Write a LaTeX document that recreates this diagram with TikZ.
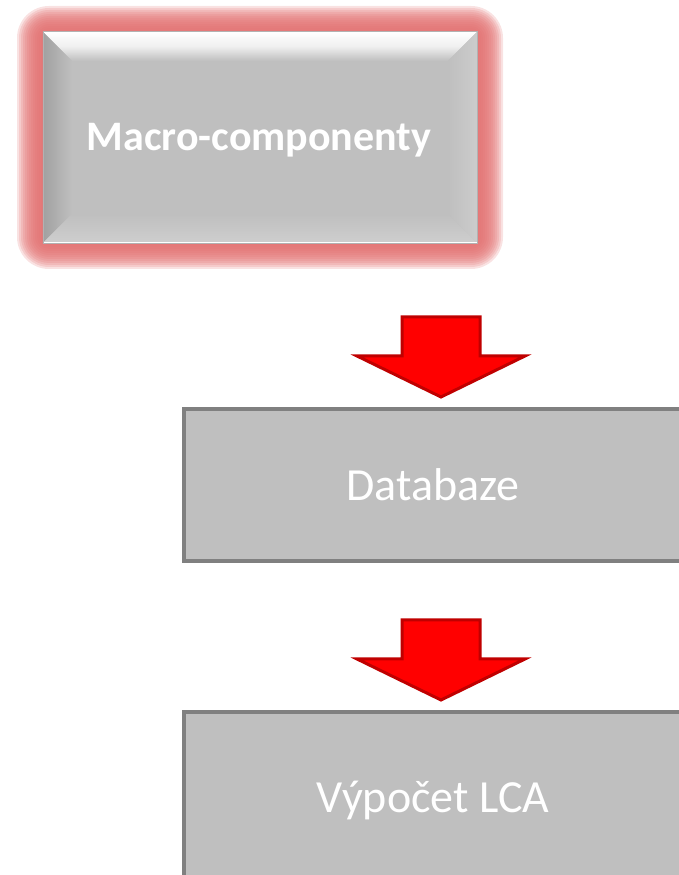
\documentclass[tikz,border=0pt]{standalone}
\usepackage{fontspec}
\setmainfont{Carlito}
\usetikzlibrary{positioning, calc}

\definecolor{glowred}{RGB}{226,112,112}
\definecolor{boxfill}{RGB}{191,191,191}
\definecolor{boxedge}{RGB}{128,128,128}
\definecolor{arrowred}{RGB}{255,0,0}
\definecolor{arrowedge}{RGB}{192,0,0}

% red block arrow, tip at the origin
\tikzset{
    blockarrow/.pic={
        \draw[arrowedge, fill=arrowred, line width=3pt, line join=miter]
            (0,0) -- (-84,41) -- (-39,41) -- (-39,80) -- (39,80) -- (39,41) -- (84,41) -- cycle;
    }
}

\begin{document}
\begin{tikzpicture}[
    x=1pt, y=1pt,
    glow/.style={fill=glowred, opacity=0.2, rounded corners=#1},
    bevelbox/.style={fill=boxfill, minimum width=434pt, minimum height=211pt, inner sep=0pt},
    flatbox/.style={draw=boxedge, line width=4pt, fill=boxfill, minimum width=498pt, inner sep=0pt, text=white, font=\fontsize{46}{55}\selectfont}
]
\clip (0,0) rectangle (679,875);

% glow behind the top box
\foreach \r in {26,24,...,2}
    \fill[glow=\r+6pt] (260-217-\r, 737.5-105.5-\r) rectangle (260+217+\r, 737.5+105.5+\r);

\node[bevelbox] (macro) at (260,737.5) {};

% bevelled edges
\shade[top color=white, bottom color=boxfill, middle color=black!6]
    (macro.north west) -- (macro.north east) -- ($(macro.north east)+(-29,-29)$) -- ($(macro.north west)+(29,-29)$) -- cycle;
\shade[left color=black!37, right color=boxfill]
    (macro.north west) -- ($(macro.north west)+(29,-29)$) -- ($(macro.south west)+(29,29)$) -- (macro.south west) -- cycle;
\shade[left color=boxfill, right color=black!20]
    (macro.north east) -- ($(macro.north east)+(-29,-29)$) -- ($(macro.south east)+(-29,29)$) -- (macro.south east) -- cycle;
\shade[top color=boxfill, bottom color=black!19]
    (macro.south west) -- ($(macro.south west)+(29,29)$) -- ($(macro.south east)+(-29,29)$) -- (macro.south east) -- cycle;
\draw[white, line width=1.5pt] (macro.south west) -- (macro.south east);
\draw[black!30, line width=0.6pt] (macro.north west) rectangle (macro.south east);
\node[text=white, font=\fontsize{42}{50}\selectfont\bfseries] (macrotext) at (259,735) {Macro-componenty};

\node[flatbox, minimum height=152pt] (db) at (433,390) {Databaze};
\node[flatbox, minimum height=176pt] (lca) at (433,75) {Výpočet LCA};

\pic (arrA) at ($(db.north)+(8,10)$) {blockarrow};
\pic (arrB) at ($(lca.north)+(8,10)$) {blockarrow};
\end{tikzpicture}
\end{document}
